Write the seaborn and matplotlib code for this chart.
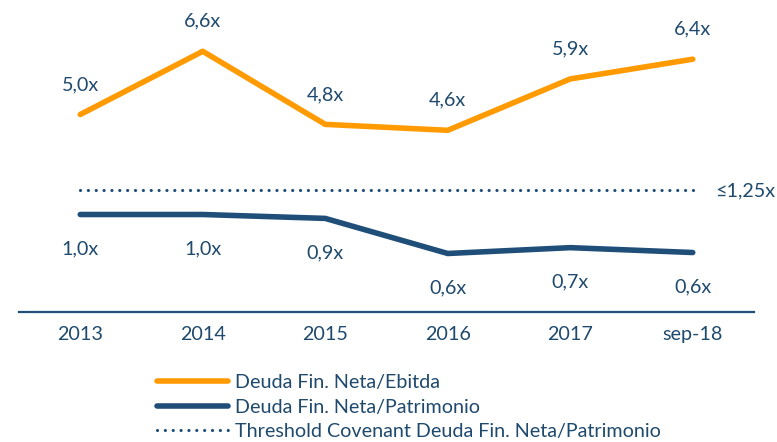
import matplotlib
matplotlib.use("Agg")
import matplotlib.pyplot as plt
import seaborn as sns
import pandas as pd
import numpy as np
from matplotlib.lines import Line2D

categories = ["2013", "2014", "2015", "2016", "2017", "sep-18"]
ebitda = [5.0, 6.6, 4.75, 4.6, 5.9, 6.4]
ebitda_labels = ["5,0x", "6,6x", "4,8x", "4,6x", "5,9x", "6,4x"]
patrimonio = [1.0, 1.0, 0.96, 0.6, 0.66, 0.61]
patrimonio_labels = ["1,0x", "1,0x", "0,9x", "0,6x", "0,7x", "0,6x"]
threshold = [1.25] * len(categories)
threshold_label = "≤1,25x"
legend_labels = ["Deuda Fin. Neta/Ebitda", "Deuda Fin. Neta/Patrimonio",
                 "Threshold Covenant Deuda Fin. Neta/Patrimonio"]

ORANGE = "#FF9A00"
BLUE = "#1F4E79"
TEXT = "#1F4A6E"
FS = 14.2

sns.set_theme(style="white")
plt.rcParams["font.family"] = ["Lato", "DejaVu Sans"]

df = pd.DataFrame({"pos": np.arange(len(categories)), "ebitda": ebitda,
                   "patrimonio": patrimonio, "threshold": threshold})

fig = plt.figure(figsize=(7.77, 4.42), dpi=100)
ax = fig.add_axes([19 / 777, 1 - 312 / 442, 735 / 777, 292 / 442])
ax2 = ax.twinx()

sns.lineplot(data=df, x="pos", y="ebitda", ax=ax, color=ORANGE, linewidth=4,
             solid_capstyle="round", solid_joinstyle="round")
sns.lineplot(data=df, x="pos", y="patrimonio", ax=ax2, color=BLUE, linewidth=4,
             solid_capstyle="round", solid_joinstyle="round")
sns.lineplot(data=df, x="pos", y="threshold", ax=ax2, color=BLUE, linewidth=2.3,
             linestyle=(0, (0.01, 2.45)), dash_capstyle="round")

ax.set_xlim(-0.5, len(categories) - 0.5)
ax.set_ylim(0, 292 / 39.5)
ax2.set_ylim(0, 292 / 97.5)

for a in (ax, ax2):
    for s in ["top", "left", "right"]:
        a.spines[s].set_visible(False)
    a.set_ylabel("")
    a.set_yticks([])
ax2.spines["bottom"].set_visible(False)
ax.spines["bottom"].set_color(BLUE)
ax.spines["bottom"].set_linewidth(1.6)
ax.set_xlabel("")
ax.set_xticks(df["pos"])
ax.set_xticklabels(categories, fontsize=FS, color=TEXT)
ax.tick_params(axis="x", length=0, pad=10)

px = 72 / 100
for x, y, t in zip(df["pos"], ebitda, ebitda_labels):
    ax.annotate(t, (x, y), xytext=(0, 30 * px), textcoords="offset points",
                ha="center", va="center", fontsize=FS, color=TEXT)
for x, y, t in zip(df["pos"], patrimonio, patrimonio_labels):
    ax2.annotate(t, (x, y), xytext=(0, -34 * px), textcoords="offset points",
                 ha="center", va="center", fontsize=FS, color=TEXT)
ax2.annotate(threshold_label, (df["pos"].iloc[-1], threshold[-1]),
             xytext=(22 * px, -1 * px), textcoords="offset points",
             ha="left", va="center", fontsize=FS, color=TEXT, annotation_clip=False)

handles = [Line2D([], [], color=ORANGE, linewidth=4, solid_capstyle="round"),
           Line2D([], [], color=BLUE, linewidth=4, solid_capstyle="round"),
           Line2D([], [], color=BLUE, linewidth=2.3, linestyle=(0, (0.01, 2.45)),
                  dash_capstyle="round")]
leg = fig.legend(handles, legend_labels, loc="center left",
                 bbox_to_anchor=(157 / 777, 1 - 407 / 442), frameon=False,
                 fontsize=FS, handlelength=3.6, handletextpad=0.35,
                 labelspacing=0.36, borderpad=0, borderaxespad=0)
for t in leg.get_texts():
    t.set_color(TEXT)

fig.savefig("out.png", dpi=100)
